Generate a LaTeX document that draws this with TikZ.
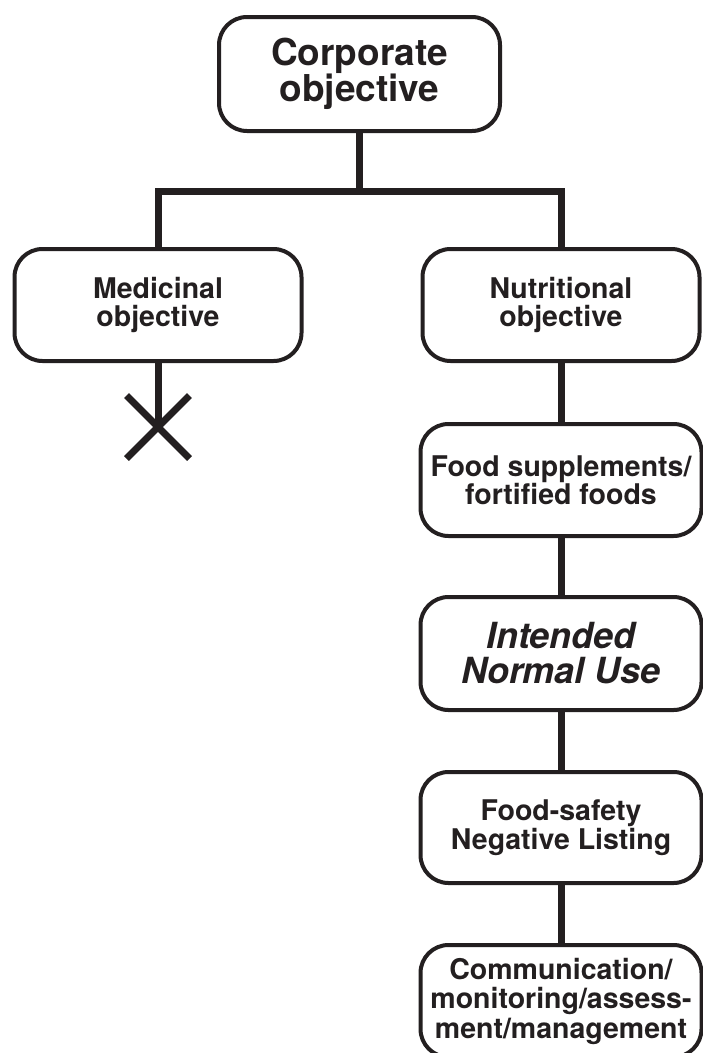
\documentclass[tikz,border=0pt]{standalone}
\usepackage{fontspec}
\setmainfont{TeX Gyre Heros}
\definecolor{ink}{HTML}{231F20}
\begin{document}
\begin{tikzpicture}[x=1pt,y=1pt,
  box/.style={draw=ink, line width=4pt, rounded corners=28pt, fill=white,
    align=center, text=ink, inner sep=0pt,
    font=\bfseries\fontsize{28.5}{28.5}\selectfont},
  conn/.style={draw=ink, line width=7pt}]
\useasboundingbox (0,0) rectangle (703,-1053);
\clip (0,0) rectangle (703,-1053);

\node[box, minimum width=281pt, minimum height=114pt,
  font=\bfseries\fontsize{37}{34}\selectfont] (corp) at (359.5,-74) {Corporate\\objective};
\node[box, minimum width=287pt, minimum height=112pt] (med) at (158,-305) {Medicinal\\objective};
\node[box, minimum width=277pt, minimum height=112pt] (nut) at (561,-305) {Nutritional\\objective};
\node[box, minimum width=281pt, minimum height=112pt] (food) at (561,-480) {Food supplements/\\fortified foods};
\node[box, minimum width=281pt, minimum height=113pt,
  font=\bfseries\itshape\fontsize{36}{35}\selectfont] (inu) at (561,-653.5) {Intended\\Normal Use};
\node[box, minimum width=281pt, minimum height=111pt] (fsn) at (561,-827.5) {Food-safety\\Negative Listing};
\node[box, minimum width=281pt, minimum height=112pt,
  font=\bfseries\fontsize{28.5}{29.5}\selectfont] (comm) at (561,-1001) {Communication/\\monitoring/assess-\\ment/management};

\coordinate (j) at (359.5,-191);
\coordinate (x) at (158,-427);

\draw[conn] (corp.south) -- (j);
\draw[conn] (med.north) |- (j) -| (nut.north);
\draw[conn] (med.south) -- (x);
\draw[conn] (x) +(-31.5,31.5) -- +(31.5,-31.5);
\draw[conn] (x) +(-31.5,-31.5) -- +(31.5,31.5);
\draw[conn] (nut.south) -- (food.north);
\draw[conn] (food.south) -- (inu.north);
\draw[conn] (inu.south) -- (fsn.north);
\draw[conn] (fsn.south) -- (comm.north);
\end{tikzpicture}
\end{document}
